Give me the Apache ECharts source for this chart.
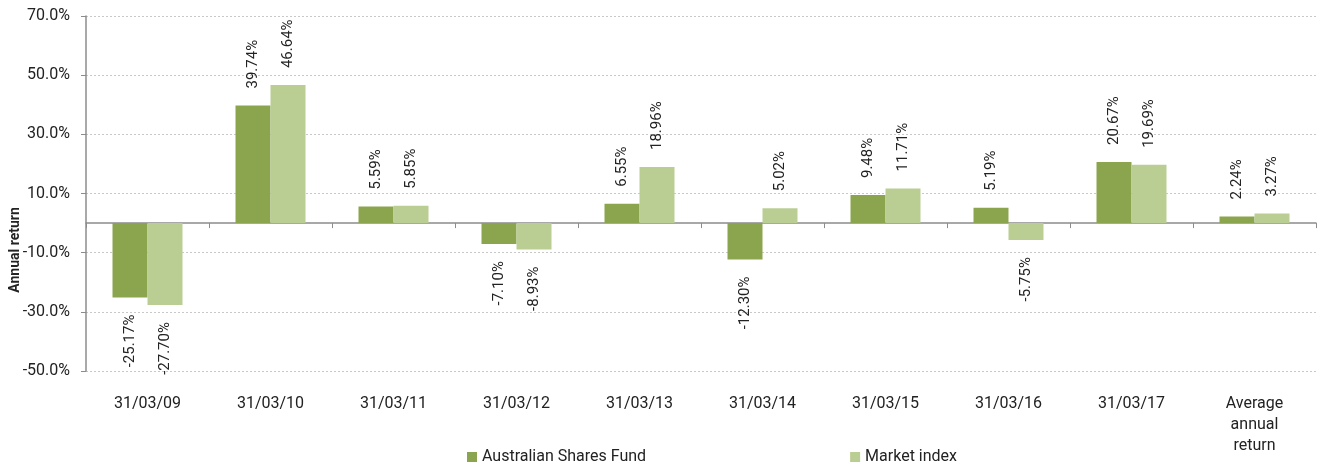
<!DOCTYPE html>
<html>
<head>
<meta charset="utf-8">
<script src="https://cdn.jsdelivr.net/npm/echarts@6/dist/echarts.min.js"></script>
<style>
  html, body { margin: 0; padding: 0; background: #fff; }
  #chart { width: 1317px; height: 464px; }
</style>
</head>
<body>
<div id="chart"></div>
<script>
var categories = ['31/03/09', '31/03/10', '31/03/11', '31/03/12', '31/03/13',
  '31/03/14', '31/03/15', '31/03/16', '31/03/17', 'Average\nannual\nreturn']
var fundValues = [-25.17, 39.74, 5.59, -7.10, 6.55, -12.30, 9.48, 5.19, 20.67, 2.24]
var indexValues = [-27.70, 46.64, 5.85, -8.93, 18.96, 5.02, 11.71, -5.75, 19.69, 3.27]
var seriesNames = ['Australian Shares Fund', 'Market index']
var yTicks = { min: -50, max: 70, interval: 20 }

var textColor = '#222'
var fontFamily = 'Roboto, "Noto Sans", sans-serif'

// labels sit above positive bars and below negative ones, rotated
function withLabels(values) {
  return values.map(function (v) {
    return {
      value: v,
      label: v >= 0
        ? { position: 'top', align: 'left' }
        : { position: 'bottom', align: 'right' }
    }
  })
}

var chart = echarts.init(document.getElementById('chart'))

var barLabel = {
  show: true,
  rotate: 90,
  distance: 17,
  verticalAlign: 'middle',
  color: textColor,
  fontFamily: fontFamily,
  fontSize: 15,
  formatter: function (p) {
    return p.value.toFixed(2) + '%'
  }
}

chart.setOption({
  animation: false,
  textStyle: { fontFamily: fontFamily },
  grid: {
    left: 86,
    right: 1,
    top: 16,
    bottom: 93
  },
  legend: {
    left: 467,
    top: 449,
    padding: 0,
    itemWidth: 10,
    itemHeight: 10,
    itemGap: 204,
    icon: 'rect',
    textStyle: { color: textColor, fontSize: 16, fontFamily: fontFamily },
    data: seriesNames
  },
  graphic: [{
    type: 'text',
    x: 15,
    y: 250,
    rotation: Math.PI / 2,
    style: {
      text: 'Annual return',
      fill: textColor,
      font: 'bold 14px Roboto, sans-serif',
      textAlign: 'center',
      textVerticalAlign: 'middle'
    }
  }],
  xAxis: [{
    type: 'category',
    data: categories,
    axisLine: { onZero: true, lineStyle: { color: '#8c8c8c', width: 1.5 } },
    axisTick: { show: true, length: 5, lineStyle: { color: '#8c8c8c' } },
    axisLabel: { show: false },
    splitLine: { show: false }
  }, {
    type: 'category',
    data: categories,
    position: 'bottom',
    axisLine: { show: false, onZero: false },
    axisTick: { show: false },
    axisLabel: {
      margin: 22,
      color: textColor,
      fontSize: 16,
      lineHeight: 21,
      fontFamily: fontFamily
    }
  }],
  yAxis: {
    type: 'value',
    min: yTicks.min,
    max: yTicks.max,
    interval: yTicks.interval,
    axisLine: { show: true, lineStyle: { color: '#8c8c8c', width: 1.5 } },
    axisTick: { show: true, length: 5, lineStyle: { color: '#8c8c8c' } },
    axisLabel: {
      margin: 16,
      color: textColor,
      fontSize: 16,
      fontFamily: fontFamily,
      formatter: function (v) { return v.toFixed(1) + '%' }
    },
    splitLine: {
      lineStyle: { color: '#c8c8c8', type: [2, 2], width: 1 }
    }
  },
  series: [{
    name: seriesNames[0],
    type: 'bar',
    xAxisIndex: 0,
    barWidth: 35,
    barGap: '0%',
    itemStyle: { color: '#8aa54e' },
    label: barLabel,
    data: withLabels(fundValues)
  }, {
    name: seriesNames[1],
    type: 'bar',
    xAxisIndex: 0,
    barWidth: 35,
    barGap: '0%',
    itemStyle: { color: '#bace94' },
    label: barLabel,
    data: withLabels(indexValues)
  }]
})
</script>
</body>
</html>
